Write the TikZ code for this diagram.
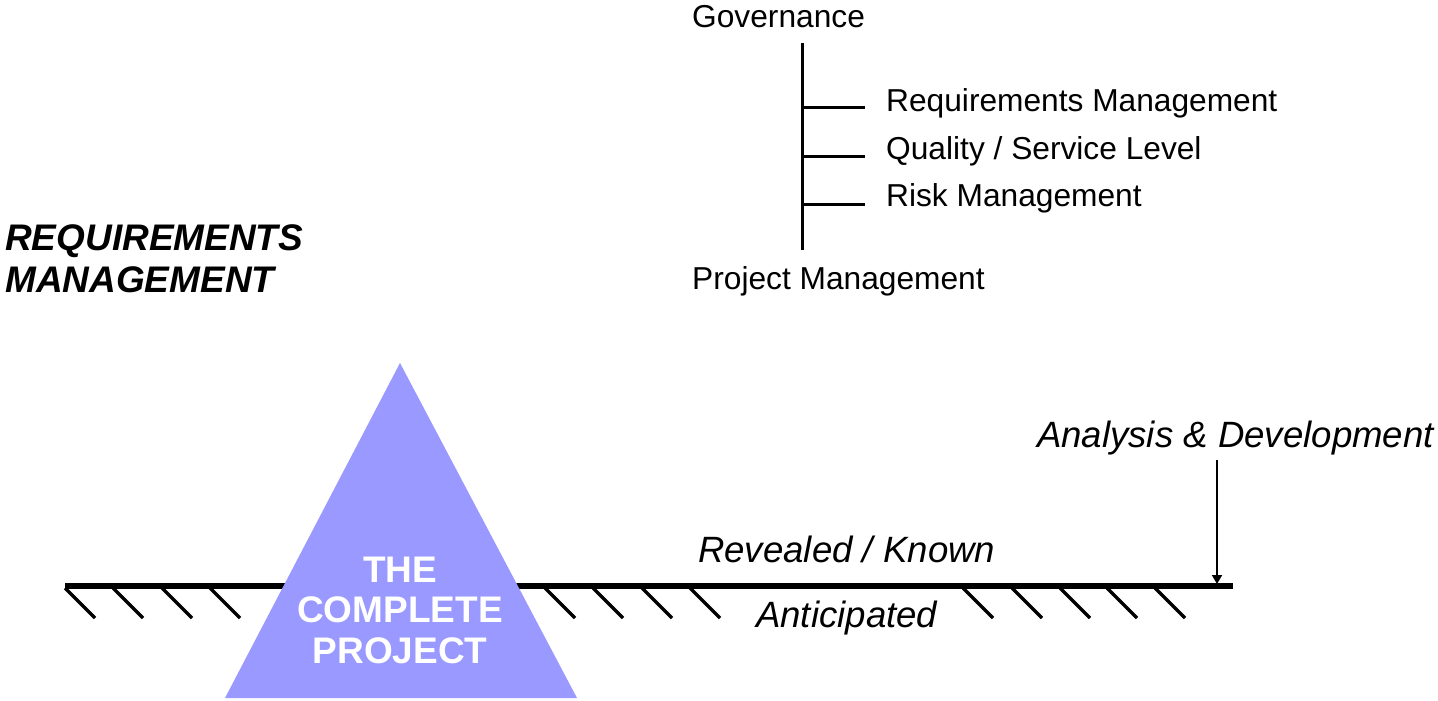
\documentclass[tikz,border=0pt]{standalone}
\usepackage{fontspec}
\setmainfont{Liberation Sans}
\usetikzlibrary{arrows.meta}
\definecolor{trifill}{RGB}{153,153,255}
\tikzset{
  lbl/.style={inner sep=0pt, anchor=base west, font=\fontsize{31.7}{37}\selectfont},
  itlbl/.style={inner sep=0pt, anchor=base west, font=\fontsize{36.6}{42}\selectfont\itshape},
  bilbl/.style={inner sep=0pt, anchor=base west, font=\fontsize{37}{42}\selectfont\bfseries\itshape},
  trilbl/.style={inner sep=0pt, anchor=base, text=white, font=\fontsize{37}{40}\selectfont\bfseries},
  treeline/.style={line width=3pt},
  ground/.style={line width=5.5pt},
  hatch/.style={line width=3.3pt},
}
\begin{document}
\begin{tikzpicture}[x=1pt,y=-1pt]
\useasboundingbox (0,0) rectangle (1438,701);

% tree
\node[lbl] (gov) at (692,28) {Governance};
\node[lbl] (pm) at (692,289) {Project Management};
\node[lbl] (req) at (886,111) {Requirements Management};
\node[lbl] (qual) at (886,159) {Quality / Service Level};
\node[lbl] (risk) at (886,206) {Risk Management};
\coordinate (vtop) at (802,43);
\coordinate (vbot) at (802,250);
\coordinate (b1) at (802,107);
\coordinate (b2) at (802,156);
\coordinate (b3) at (802,204);
\coordinate (e1) at (865,107);
\coordinate (e2) at (865,156);
\coordinate (e3) at (865,204);
\draw[treeline] (vtop) -- (vbot);
\draw[treeline] (b1) -- (e1);
\draw[treeline] (b2) -- (e2);
\draw[treeline] (b3) -- (e3);

% title
\node[bilbl] (t1) at (5,250) {REQUIREMENTS};
\node[bilbl] (t2) at (5,292) {MANAGEMENT};

% ground line
\coordinate (gl) at (65,586);
\coordinate (gr) at (1233,586);
\draw[ground] (gl) -- (gr);
\foreach \x in {65,113,162,210,545,593,642,690,963,1012,1060,1107,1155}
  \draw[hatch] (\x,588) -- ++(30,30);

% triangle
\coordinate (apex) at (400,363);
\coordinate (bl) at (225,698);
\coordinate (br) at (577,698);
\fill[trifill] (apex) -- (bl) -- (br) -- cycle;
\node[trilbl] (tr1) at (400,582) {THE};
\node[trilbl] (tr2) at (400,622) {COMPLETE};
\node[trilbl] (tr3) at (400,663) {PROJECT};

% labels
\node[itlbl] (rev) at (698,562) {Revealed / Known};
\node[itlbl] (ant) at (756,627) {Anticipated};
\node[itlbl, anchor=base east] (ana) at (1434,447) {Analysis \& Development};
\coordinate (as) at (1217,460);
\coordinate (ae) at (1217,584);
\draw[line width=2pt, -{Triangle[length=9pt,width=10pt]}] (as) -- (ae);
\end{tikzpicture}
\end{document}
